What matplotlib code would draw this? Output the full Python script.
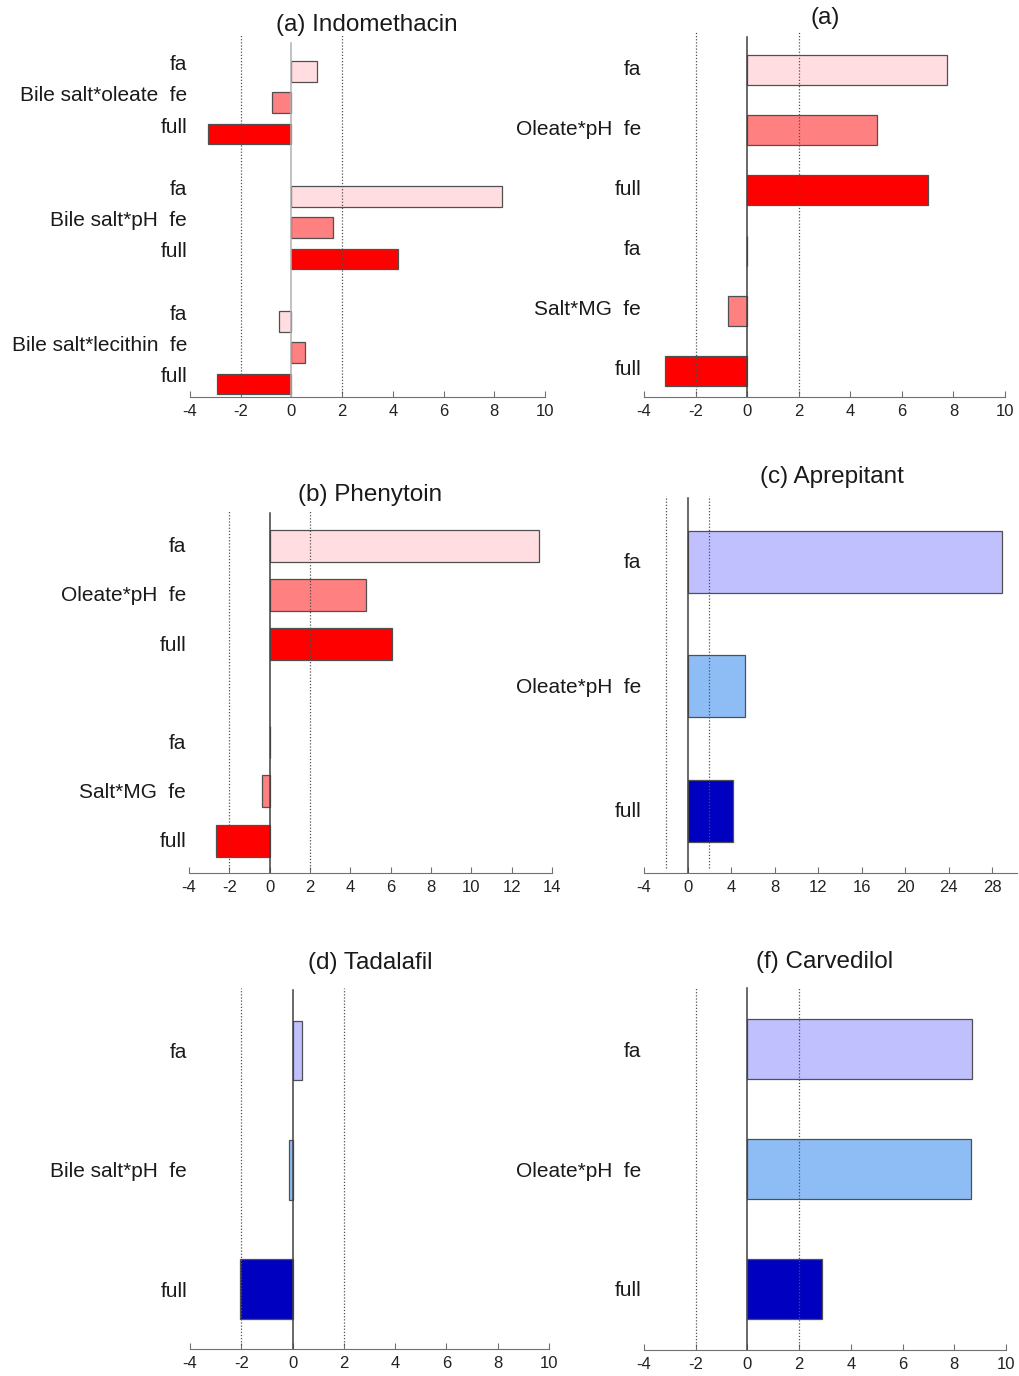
import matplotlib.pyplot as plt

plt.rcParams['font.family'] = ['Liberation Sans', 'DejaVu Sans']
plt.rcParams['axes.unicode_minus'] = False

ROJOS = ["#ffdde0", "#ff8080", "#ff0000"]
AZULES = ["#c0c0ff", "#8ebdf5", "#0000c0"]
NIVELES = ["fa", "fe", "full"]

# (a) Indomethacin
indo_grupos = ["Bile salt*oleate", "Bile salt*pH", "Bile salt*lecithin"]
indo_fa = [1.0, 8.3, -0.5]
indo_fe = [-0.75, 1.65, 0.55]
indo_full = [-3.3, 4.2, -2.95]

# (a) segundo panel
a2_grupos = ["Oleate*pH", "Salt*MG"]
a2_fa = [7.75, 0.0]
a2_fe = [5.05, -0.75]
a2_full = [7.0, -3.2]

# (b) Phenytoin
feni_grupos = ["Oleate*pH", "Salt*MG"]
feni_fa = [13.35, 0.0]
feni_fe = [4.8, -0.4]
feni_full = [6.05, -2.65]

# (c) Aprepitant
apre_grupos = ["Oleate*pH"]
apre_fa = [28.9]
apre_fe = [5.3]
apre_full = [4.2]

# (d) Tadalafil
tada_grupos = ["Bile salt*pH"]
tada_fa = [0.35]
tada_fe = [-0.15]
tada_full = [-2.05]

# (f) Carvedilol
carv_grupos = ["Oleate*pH"]
carv_fa = [8.7]
carv_fe = [8.65]
carv_full = [2.9]

W, H = 1019, 1376
fig = plt.figure(figsize=(W / 100, H / 100), dpi=100)


def panel(px, titulo, tit_xy, grupos, fa, fe, full, colores, xlim, xticks,
          ylim, cero_top, alto, hueco, color_cero, subir=0):
    izq, der, arriba, abajo = px
    ax = fig.add_axes([izq / W, 1 - abajo / H, (der - izq) / W, (abajo - arriba) / H])

    pos, etiquetas, valores, cols = [], [], [], []
    p = 0
    for g, nombre in enumerate(grupos):
        for k, nivel in enumerate(NIVELES):
            pos.append(p)
            etiquetas.append(f"{nombre}  {nivel}" if nivel == "fe" else nivel)
            valores.append([fa, fe, full][k][g])
            cols.append(colores[k])
            p += 1
        p += hueco

    ax.barh(pos, valores, height=alto, color=cols, edgecolor="#505050",
            linewidth=0.9, zorder=2)

    for xv in (-2, 2):
        ax.axvline(xv, ymin=0.012, ymax=1, color="#505050", linestyle=(0, (1, 1.5)),
                   linewidth=0.9, zorder=3)
    ax.plot([0, 0], [ylim[0], cero_top], color=color_cero, linewidth=1.1, zorder=4)

    ax.set_xlim(*xlim)
    ax.set_ylim(*ylim)
    ax.set_xticks(xticks)

    # etiquetas algo por encima del centro de la barra (subir en pixeles)
    px_por_unidad = (abajo - arriba) / (ylim[0] - ylim[1])
    ax.set_yticks([q - subir / px_por_unidad for q in pos])
    ax.set_yticklabels(etiquetas, fontsize=15, color="#1a1a1a")

    for lado in ("top", "right", "left"):
        ax.spines[lado].set_visible(False)
    ax.spines["bottom"].set_color("#707070")
    ax.spines["bottom"].set_bounds(*xlim)
    ax.tick_params(axis="y", length=0, pad=2)
    ax.tick_params(axis="x", direction="in", length=4, color="#707070",
                   labelsize=12, labelcolor="#222222", pad=5)
    ax.patch.set_alpha(0)

    fig.text(tit_xy[0] / W, 1 - tit_xy[1] / H, titulo, fontsize=17.5,
             ha="center", va="center", color="#1a1a1a")
    return ax


panel((190, 545, 35, 397), "(a) Indomethacin", (367, 25), indo_grupos,
      indo_fa, indo_fe, indo_full, ROJOS, (-4, 10), range(-4, 11, 2),
      (10.42, -1.17), -0.92, 0.66, 1, "#b0b0b0", subir=9)

panel((644, 1005, 32, 397), "(a)", (825, 18), a2_grupos,
      a2_fa, a2_fe, a2_full, ROJOS, (-4, 10), range(-4, 11, 2),
      (5.44, -0.64), -0.55, 0.5, 0, "#404040", subir=3)

panel((189, 552, 510, 873), "(b) Phenytoin", (370, 495), feni_grupos,
      feni_fa, feni_fe, feni_full, ROJOS, (-4, 14), range(-4, 15, 2),
      (6.66, -0.73), -0.67, 0.65, 1, "#404040", subir=1)

panel((644, 1017, 496, 873), "(c) Aprepitant", (832, 477), apre_grupos,
      apre_fa, apre_fe, apre_full, AZULES, (-4, 30.25), [-4, 0, 4, 8, 12, 16, 20, 24, 28],
      (2.50, -0.53), -0.51, 0.5, 0, "#404040", subir=1)

panel((190, 549, 988, 1349), "(d) Tadalafil", (370, 963), tada_grupos,
      tada_fa, tada_fe, tada_full, AZULES, (-4, 10), range(-4, 11, 2),
      (2.50, -0.525), -0.51, 0.5, 0, "#404040")

panel((644, 1006, 987, 1350), "(f) Carvedilol", (825, 962), carv_grupos,
      carv_fa, carv_fe, carv_full, AZULES, (-4, 10), range(-4, 11, 2),
      (2.51, -0.52), -0.51, 0.5, 0, "#404040")

fig.savefig("out.png", dpi=100)
